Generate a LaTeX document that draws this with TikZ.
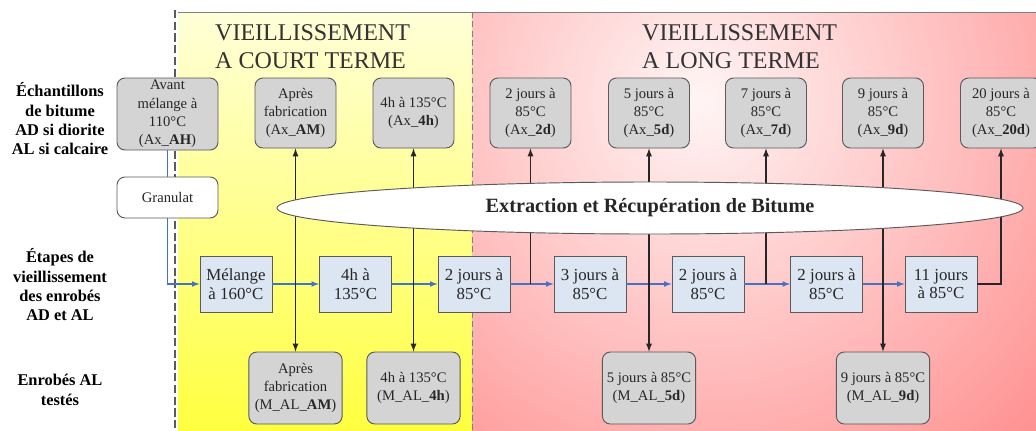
\documentclass[tikz,border=0pt]{standalone}
\usepackage{fontspec}
\setmainfont{Liberation Serif}
\usetikzlibrary{shapes.geometric, arrows, positioning, calc}
\definecolor{boxgray}{RGB}{212,212,212}
\definecolor{boxblue}{RGB}{220,230,242}
\definecolor{flowblue}{RGB}{68,114,196}
\definecolor{edgegray}{RGB}{90,90,90}

\begin{document}
\begin{tikzpicture}[x=0.3mm, y=-0.3mm,
  sample/.style={rectangle, rounded corners=2.4mm, draw=edgegray, line width=0.8pt, fill=boxgray, inner sep=0pt, minimum width=24.3mm, minimum height=21mm, align=center, font=\fontsize{12.5}{15.6}\selectfont, text=black!85},
  stage/.style={rectangle, draw=edgegray, line width=0.8pt, fill=boxblue, inner sep=0pt, minimum width=21.6mm, minimum height=16.8mm, align=center, font=\fontsize{14.4}{16.2}\selectfont, text=black!85},
  tested/.style={sample, minimum width=28mm, minimum height=21.6mm},
  rowlabel/.style={align=center, inner sep=0pt, font=\fontsize{14}{16.5}\selectfont\bfseries},
  zonetitle/.style={anchor=north west, align=left, inner sep=0pt, font=\fontsize{20.5}{24}\selectfont, text=black!80},
  flow/.style={->, >=latex, flowblue, line width=1.2pt},
  link/.style={>=latex, black!85, line width=1.3pt}
]
\useasboundingbox (0,0) rectangle (1036,430);

\shade[top color=yellow!15, bottom color=yellow!75] (178,12) rectangle (472,430);
\begin{scope}
\clip (472,12) rectangle (1036,430);
\shade[inner color=red!4, outer color=red!62] (700,100) circle (700);
\end{scope}
\draw[gray, line width=0.8pt] (178,12) -- (1036,12);
\draw[edgegray, line width=1.5pt, dash pattern=on 7pt off 3pt] (175,10) -- (175,430);
\draw[gray, line width=0.8pt, dash pattern=on 5pt off 3pt] (472,12) -- (472,430);

\node[zonetitle] (shortterm) at (215,24) {VIEILLISSEMENT\\A COURT TERME};
\node[zonetitle] (longterm) at (642,24) {VIEILLISSEMENT\\A LONG TERME};

\node[rowlabel] (samplelabel) at (60,119) {Échantillons\\de bitume\\AD si diorite\\AL si calcaire};
\node[rowlabel] (stagelabel) at (60,285) {Étapes de\\vieillissement\\des enrobés\\AD et AL};
\node[rowlabel] (testedlabel) at (60,390) {Enrobés AL\\testés};

\node[sample, minimum width=30.3mm, minimum height=21.6mm] (axah) at (167.5,114) {Avant\\mélange à\\110°C\\(Ax\_\textbf{AH})};
\node[sample] (axam) at (295.5,113) {Après\\fabrication\\(Ax\_\textbf{AM})};
\node[sample] (ax4h) at (413.5,113) {4h à 135°C\\(Ax\_\textbf{4h})};
\node[sample] (ax2d) at (530.5,113) {2 jours à\\85°C\\(Ax\_\textbf{2d})};
\node[sample] (ax5d) at (649,113) {5 jours à\\85°C\\(Ax\_\textbf{5d})};
\node[sample] (ax7d) at (766,113) {7 jours à\\85°C\\(Ax\_\textbf{7d})};
\node[sample] (ax9d) at (883,113) {9 jours à\\85°C\\(Ax\_\textbf{9d})};
\node[sample] (ax20d) at (1001,113) {20 jours à\\85°C\\(Ax\_\textbf{20d})};

\node[sample, fill=white, minimum width=30.3mm, minimum height=12.3mm] (granulat) at (167.5,197.5) {Granulat};

\node[stage] (melange) at (236,284) {Mélange\\à 160°C};
\node[stage] (st4h) at (355.5,284) {4h à\\135°C};
\node[stage] (st2d) at (474,284) {2 jours à\\85°C};
\node[stage] (st5d) at (590,284) {3 jours à\\85°C};
\node[stage] (st7d) at (708,284) {2 jours à\\85°C};
\node[stage] (st9d) at (826.5,284) {2 jours à\\85°C};
\node[stage] (st20d) at (941,284) {11 jours\\à 85°C};

\node[tested] (mam) at (295.5,388) {Après\\fabrication\\(M\_AL\_\textbf{AM})};
\node[tested] (m4h) at (413.5,388) {4h à 135°C\\(M\_AL\_\textbf{4h})};
\node[tested] (m5d) at (649,388) {5 jours à 85°C\\(M\_AL\_\textbf{5d})};
\node[tested] (m9d) at (883,388) {9 jours à 85°C\\(M\_AL\_\textbf{9d})};

\draw[flowblue, line width=1.2pt] (axah) -- (granulat);
\draw[flow] (granulat) |- (melange);
\draw[flow] (melange) -- (st4h);
\draw[flow] (st4h) -- (st2d);
\draw[flow] (st2d) -- (st5d);
\draw[flow] (st5d) -- (st7d);
\draw[flow] (st7d) -- (st9d);
\draw[flow] (st9d) -- (st20d);

\draw[link, <->] (axam) -- (mam);
\draw[link, <->] (ax4h) -- (m4h);
\draw[link, ->] (st2d.east -| ax2d) -- (ax2d);
\draw[link, <->] (ax5d) -- (m5d);
\draw[link, ->] (st7d.east -| ax7d) -- (ax7d);
\draw[link, <->] (ax9d) -- (m9d);
\draw[link, ->] (st20d.east) -| (ax20d);

\node[ellipse, draw=edgegray, line width=0.8pt, fill=white, minimum width=223.8mm, minimum height=15.6mm, inner sep=0pt, font=\fontsize{17.3}{20}\selectfont\bfseries, text=black!85] (extraction) at (650,208) {Extraction et Récupération de Bitume};
\end{tikzpicture}
\end{document}
